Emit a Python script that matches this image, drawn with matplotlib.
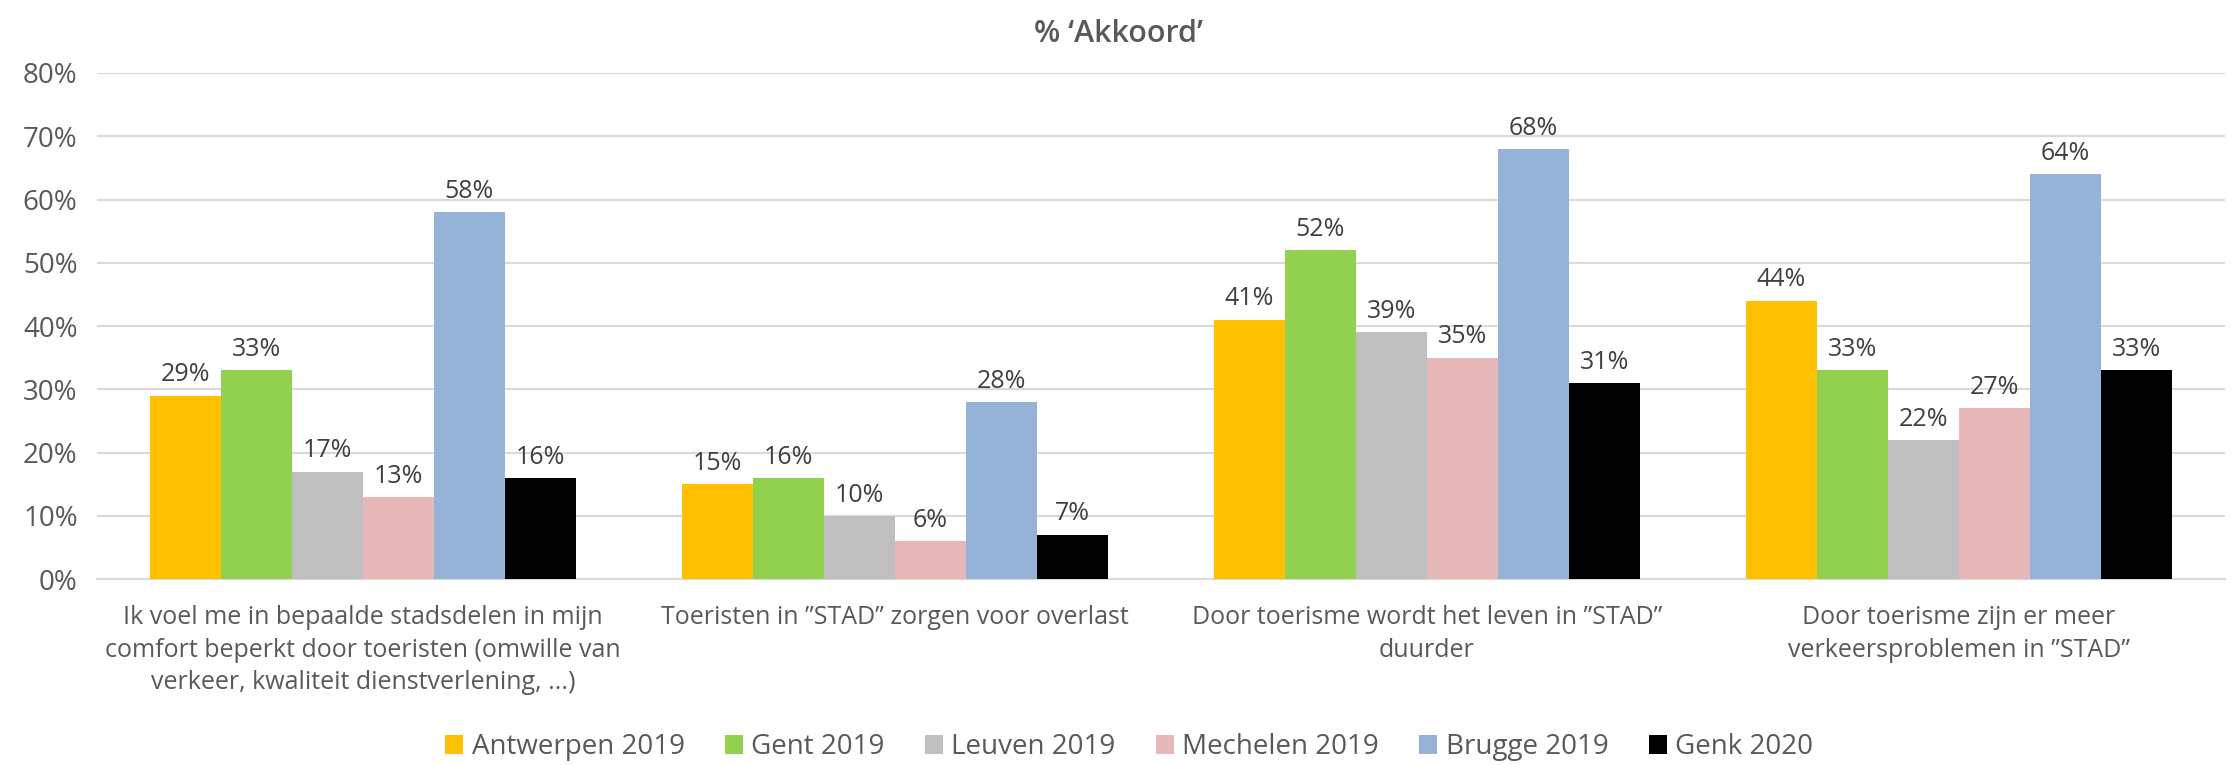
import numpy as np
import matplotlib.pyplot as plt
from matplotlib.ticker import PercentFormatter

# categories and series
categories = [
    "Ik voel me in bepaalde stadsdelen in mijn\ncomfort beperkt door toeristen (omwille van\nverkeer, kwaliteit dienstverlening, ...)",
    "Toeristen in \u201dSTAD\u201d zorgen voor overlast",
    "Door toerisme wordt het leven in \u201dSTAD\u201d\nduurder",
    "Door toerisme zijn er meer\nverkeersproblemen in \u201dSTAD\u201d",
]
series_names = ["Antwerpen 2019", "Gent 2019", "Leuven 2019", "Mechelen 2019", "Brugge 2019", "Genk 2020"]
antwerpen = [29, 15, 41, 44]
gent = [33, 16, 52, 33]
leuven = [17, 10, 39, 22]
mechelen = [13, 6, 35, 27]
brugge = [58, 28, 68, 64]
genk = [16, 7, 31, 33]
series_values = [antwerpen, gent, leuven, mechelen, brugge, genk]
colors = ["#FFC000", "#92D050", "#BFBFBF", "#E6B9B8", "#95B3D7", "#000000"]

plt.rcParams['font.family'] = ['Open Sans', 'DejaVu Sans']
text_col = "#595959"

fig = plt.figure(figsize=(22.36, 7.65), dpi=100)
ax = fig.add_axes([0.0434, 0.243, 0.9516, 0.6616])

x = np.arange(len(categories))
n = len(series_names)
w = 0.8 / n
for i, (name, vals, c) in enumerate(zip(series_names, series_values, colors)):
    pos = x - 0.4 + w * (i + 0.5)
    bars = ax.bar(pos, vals, width=w, color=c, label=name, zorder=3)
    for b, v in zip(bars, vals):
        ax.annotate(f"{v}%", (b.get_x() + b.get_width() / 2, v),
                    xytext=(0, 6), textcoords="offset points",
                    ha="center", va="bottom", fontsize=18, color="#404040")

ax.set_xlim(-0.5, len(categories) - 0.5)
ax.set_ylim(0, 80)
ax.set_yticks(range(0, 81, 10))
ax.yaxis.set_major_formatter(PercentFormatter(decimals=0))
ax.grid(axis="y", color="#D9D9D9", linewidth=1.5, zorder=0)
for s in ["top", "right", "left"]:
    ax.spines[s].set_visible(False)
ax.spines["bottom"].set_color("#D9D9D9")
ax.spines["bottom"].set_linewidth(1.5)
ax.set_xticks(x)
ax.set_xticklabels(categories, fontsize=18, color=text_col, linespacing=1.37)
ax.tick_params(axis="x", length=0, pad=19)
ax.tick_params(axis="y", length=0, pad=14, labelsize=20, labelcolor=text_col)

fig.text(0.5, 0.955, "% \u2018Akkoord\u2019", ha="center", va="center",
         fontsize=22, fontweight="semibold", color=text_col)

fig.legend(loc="center", bbox_to_anchor=(0.505, 0.023), ncol=n, frameon=False,
           fontsize=20, labelcolor=text_col, handlelength=0.65, handleheight=0.65,
           handletextpad=0.3, columnspacing=1.45)

fig.savefig("out.png", dpi=100)
